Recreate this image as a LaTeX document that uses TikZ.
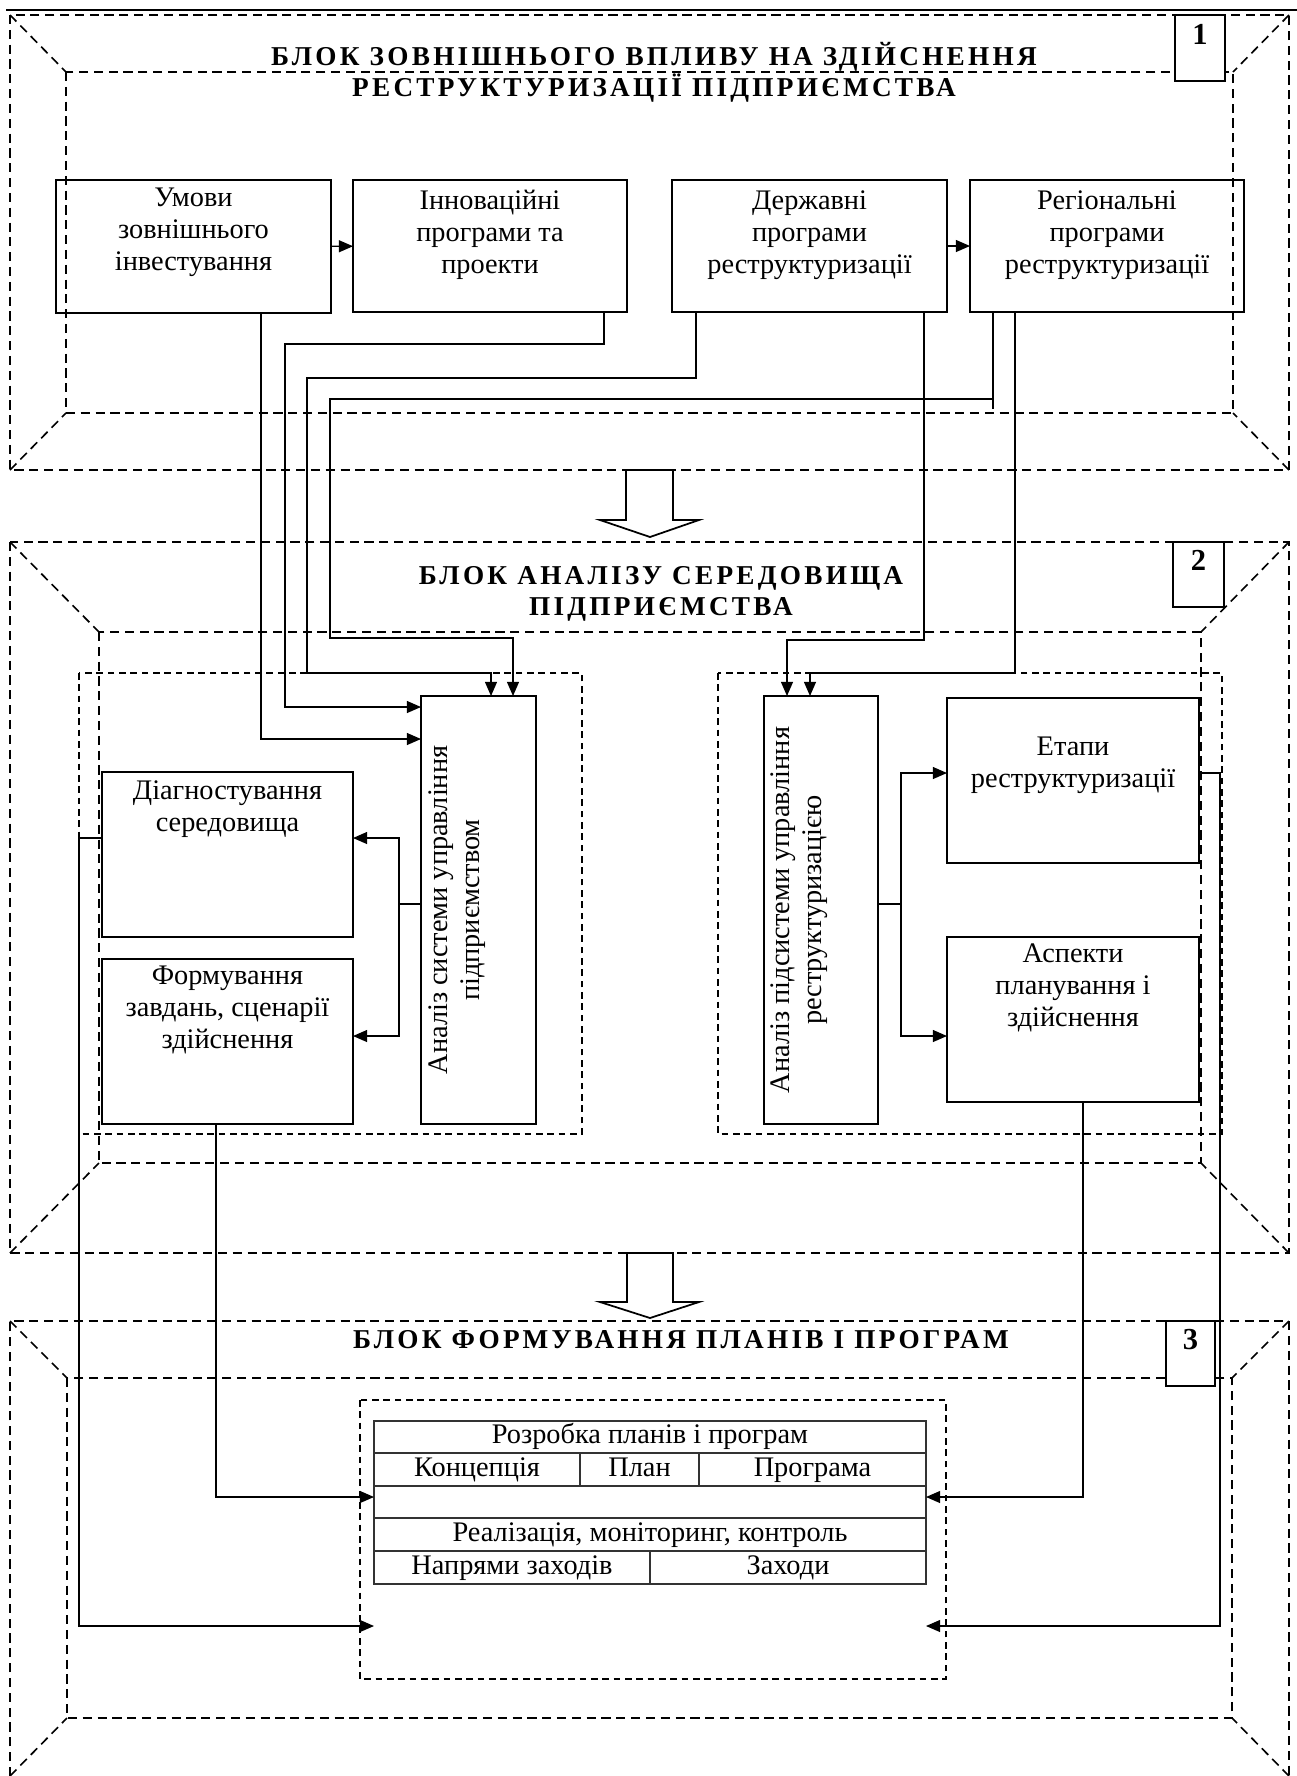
\documentclass[tikz,border=0pt]{standalone}
\usepackage{fontspec}
\setmainfont{Liberation Serif}
\newfontfamily\titlefont[LetterSpace=12]{Liberation Serif}
\usetikzlibrary{arrows.meta}
\newcommand{\px}{0.4588pt}

\tikzset{
  box/.style={draw, line width=0.7pt, inner sep=0pt, outer sep=0pt},
  numbox/.style={draw, fill=white, line width=0.7pt, inner sep=0pt, outer sep=0pt},
  txt/.style={align=center, inner sep=0pt, font=\fontsize{13}{14.7}\selectfont},
  cell/.style={txt, text height=9pt, text depth=2.6pt},
  num/.style={inner sep=0pt, font=\fontsize{14}{16}\selectfont\bfseries},
  ttl/.style={align=center, inner sep=0pt, font=\titlefont\fontsize{12.5}{14.3}\selectfont\bfseries},
  frame/.style={line width=0.75pt, dash pattern=on 4.2pt off 2.6pt},
  grp/.style={line width=0.6pt, dash pattern=on 3pt off 2.2pt},
  tline/.style={draw=black!80, line width=0.5pt},
  conn/.style={line width=0.6pt},
  arr/.style={conn, -{Triangle[length=6.5pt,width=5.5pt]}},
}

\begin{document}
\begin{tikzpicture}[x=0.4588pt, y=-0.4588pt]
\useasboundingbox (0,0) rectangle (1297,1776);
\draw[line width=1.1pt] (6,10) -- (1297,10);

%% block 1
\draw[frame] (10,15) rectangle (1289,470);
\draw[frame] (66,72) rectangle (1233,413);
\draw[frame] (10,15) -- (66,72);
\draw[frame] (1289,15) -- (1233,72);
\draw[frame] (10,470) -- (66,413);
\draw[frame] (1289,470) -- (1233,413);
\node[numbox, minimum width={50*\px}, minimum height={66*\px}] (n1) at (1200,48) {};
\node[num] (d1) at (1200,34) {1};
\node[ttl] (title1) at (654,72) {БЛОК ЗОВНІШНЬОГО ВПЛИВУ НА ЗДІЙСНЕННЯ\\РЕСТРУКТУРИЗАЦІЇ ПІДПРИЄМСТВА};

\node[box, minimum width={275*\px}, minimum height={133*\px}] (umovy) at (193.5,246.5) {};
\node[txt] (umovyt) at (193.5,232) {Умови\\зовнішнього\\інвестування};
\node[box, minimum width={274*\px}, minimum height={132*\px}] (innov) at (490,246) {};
\node[txt] (innovt) at (490,235) {Інноваційні\\програми та\\проекти};
\node[box, minimum width={275*\px}, minimum height={132*\px}] (derzh) at (809.5,246) {};
\node[txt] (derzht) at (809.5,235) {Державні\\програми\\реструктуризації};
\node[box, minimum width={274*\px}, minimum height={132*\px}] (region) at (1107,246) {};
\node[txt] (regiont) at (1107,235) {Регіональні\\програми\\реструктуризації};
\draw[arr] (umovy) -- (innov);
\draw[arr] (derzh) -- (region);

%% block 2
\draw[frame] (10,542) rectangle (1289,1253);
\draw[frame] (99,632) rectangle (1201,1163);
\draw[frame] (10,542) -- (99,632);
\draw[frame] (1289,542) -- (1201,632);
\draw[frame] (10,1253) -- (99,1163);
\draw[frame] (1289,1253) -- (1201,1163);
\node[numbox, minimum width={51*\px}, minimum height={65*\px}] (n2) at (1198.5,574.5) {};
\node[num] (d2) at (1198.5,560) {2};
\node[ttl] (title2) at (661,594) {БЛОК АНАЛІЗУ СЕРЕДОВИЩА\\ПІДПРИЄМСТВА};
\draw[grp] (79,673) rectangle (582,1134);
\draw[grp] (718,673) rectangle (1222,1134);

\node[box, minimum width={251*\px}, minimum height={165*\px}] (diag) at (227.5,854.5) {};
\node[txt] (diagt) at (227.5,809) {Діагностування\\середовища};
\node[box, minimum width={251*\px}, minimum height={165*\px}] (form) at (227.5,1041.5) {};
\node[txt] (formt) at (227.5,1010) {Формування\\завдань, сценарії\\здійснення};
\node[box, minimum width={115*\px}, minimum height={428*\px}] (ansys) at (478.5,910) {};
\node[txt, rotate=90] (ansyst) at (457.5,910) {Аналіз системи управління\\підприємством};
\node[box, minimum width={114*\px}, minimum height={428*\px}] (ansub) at (821,910) {};
\node[txt, rotate=90] (ansubt) at (799.5,910) {Аналіз підсистеми управління\\реструктуризацією};
\node[box, minimum width={252*\px}, minimum height={165*\px}] (etapy) at (1073,780.5) {};
\node[txt] (etapyt) at (1073,765) {Етапи\\реструктуризації};
\node[box, minimum width={252*\px}, minimum height={165*\px}] (aspekty) at (1073,1019.5) {};
\node[txt] (aspektyt) at (1073,988) {Аспекти\\планування і\\здійснення};

%% block 3
\draw[frame] (10,1776) -- (10,1321) -- (1289,1321) -- (1289,1776);
\draw[frame] (67,1378) rectangle (1232,1718);
\draw[frame] (10,1321) -- (67,1378);
\draw[frame] (1289,1321) -- (1232,1378);
\draw[frame] (10,1776) -- (67,1718);
\draw[frame] (1289,1776) -- (1232,1718);
\node[numbox, minimum width={49*\px}, minimum height={65*\px}] (n3) at (1190.5,1353.5) {};
\node[num] (d3) at (1190.5,1340) {3};
\node[ttl] (title3) at (681,1340) {БЛОК ФОРМУВАННЯ ПЛАНІВ І ПРОГРАМ};
\draw[grp] (360,1400) rectangle (946,1679);

\node[box, tline, minimum width={552*\px}, minimum height={163*\px}] (plan) at (650,1502.5) {};
\draw[tline] (374,1453) -- (926,1453);
\draw[tline] (374,1486) -- (926,1486);
\draw[tline] (374,1518) -- (926,1518);
\draw[tline] (374,1551) -- (926,1551);
\draw[tline] (580,1453) -- (580,1486);
\draw[tline] (699,1453) -- (699,1486);
\draw[tline] (650,1551) -- (650,1584);
\node[cell] (p1) at (650,1437) {Розробка планів і програм};
\node[cell] (p2) at (477,1469.5) {Концепція};
\node[cell] (p3) at (639.5,1469.5) {План};
\node[cell] (p4) at (812.5,1469.5) {Програма};
\node[cell] (p5) at (650,1534.5) {Реалізація, моніторинг, контроль};
\node[cell] (p6) at (512,1567.5) {Напрями заходів};
\node[cell] (p7) at (788,1567.5) {Заходи};

%% hollow arrows
\draw[line width=0.8pt, fill=white] (626,470) -- (626,520) -- (600,520) -- (650,537) -- (699,520) -- (673,520) -- (673,470) -- cycle;
\draw[line width=0.8pt, fill=white] (627,1253) -- (627,1302) -- (600,1302) -- (650,1318) -- (699,1302) -- (673,1302) -- (673,1253) -- cycle;

%% connectors
\coordinate (regstub) at (993,409);
\coordinate (lfork) at (399,904);
\coordinate (rfork) at (901,904);
\draw[arr] (261,0 |- umovy.south) |- (ansys.west |- 0,739);
\draw[arr] (604,0 |- innov.south) |- (285,344) |- (ansys.west |- 0,707);
\draw[arr] (696,0 |- derzh.south) |- (307,378) |- (491,673) -- (491,0 |- ansys.north);
\draw[conn] (993,0 |- region.south) -- (regstub);
\draw[arr] (993,399) -| (330,638) -| (513,0 |- ansys.north);
\draw[arr] (924,0 |- derzh.south) |- (787,640) -- (787,0 |- ansub.north);
\draw[arr] (1015,0 |- region.south) |- (810,673) -- (810,0 |- ansub.north);
%%
\draw[conn] (ansys.west |- lfork) -- (lfork);
\draw[arr] (lfork) |- (diag.east |- 0,838);
\draw[arr] (lfork) |- (form.east |- 0,1036);
\draw[conn] (ansub.east |- rfork) -- (rfork);
\draw[arr] (rfork) |- (etapy.west |- 0,773);
\draw[arr] (rfork) |- (aspekty.west |- 0,1036);
%%
\draw[arr] (diag.west |- 0,838) -| (79,1626) -- (plan.west |- 0,1626);
\draw[arr] (216,0 |- form.south) |- (plan.west |- 0,1497);
\draw[arr] (1083,0 |- aspekty.south) |- (plan.east |- 0,1497);
\draw[arr] (etapy.east |- 0,773) -| (1220,1626) -- (plan.east |- 0,1626);
\end{tikzpicture}
\end{document}
